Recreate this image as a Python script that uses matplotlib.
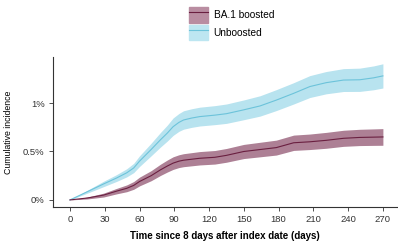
import matplotlib.pyplot as plt
import numpy as np
from matplotlib.patches import Patch
from matplotlib.lines import Line2D

plt.rcParams['font.family'] = ['Liberation Sans', 'DejaVu Sans']

# days since 8 days after index date
days = [0, 15, 29, 40, 49, 55, 60, 70, 78, 84, 89, 94, 98, 105, 112, 125, 135, 150, 164, 178, 193, 207, 221, 236, 250, 262, 270]

# cumulative incidence (%)
unboosted = [0, 0.085, 0.165, 0.225, 0.28, 0.33, 0.40, 0.52, 0.62, 0.69, 0.756, 0.80, 0.825, 0.845, 0.86, 0.875, 0.89, 0.93, 0.97, 1.03, 1.10, 1.17, 1.21, 1.237, 1.24, 1.26, 1.28]
unboosted_hw = [0, 0.015, 0.028, 0.035, 0.042, 0.048, 0.055, 0.065, 0.075, 0.082, 0.09, 0.092, 0.095, 0.096, 0.097, 0.098, 0.1, 0.102, 0.105, 0.108, 0.11, 0.113, 0.115, 0.118, 0.12, 0.123, 0.125]

boosted = [0, 0.02, 0.05, 0.09, 0.12, 0.15, 0.19, 0.25, 0.31, 0.35, 0.38, 0.40, 0.41, 0.42, 0.43, 0.44, 0.46, 0.50, 0.52, 0.54, 0.59, 0.60, 0.615, 0.636, 0.645, 0.648, 0.65]
boosted_hw = [0, 0.01, 0.02, 0.028, 0.035, 0.04, 0.045, 0.052, 0.058, 0.062, 0.065, 0.066, 0.067, 0.068, 0.069, 0.07, 0.071, 0.073, 0.075, 0.077, 0.079, 0.08, 0.082, 0.083, 0.084, 0.085, 0.086]

blue_line = '#6cc3da'
blue_band = '#b8e3ef'
red_line = '#6a1f40'
red_band = '#ad8095'

fig = plt.figure(figsize=(3.98, 2.44), dpi=100)
ax = fig.add_axes([0.133, 0.152, 0.864, 0.614])

d = np.array(days)
u = np.array(unboosted); uh = np.array(unboosted_hw)
b = np.array(boosted); bh = np.array(boosted_hw)

ax.fill_between(d, u - uh, u + uh, color=blue_band, lw=0)
ax.plot(d, u, color=blue_line, lw=0.8)
ax.fill_between(d, b - bh, b + bh, color=red_band, lw=0)
ax.plot(d, b, color=red_line, lw=0.8)

ax.set_xlim(-14.7, 282)
ax.set_ylim(-0.072, 1.474)
ax.set_xticks(range(0, 271, 30))
ax.set_yticks([0, 0.5, 1])
ax.set_yticklabels(['0%', '0.5%', '1%'])
ax.tick_params(labelsize=6.8, length=3, width=0.6, colors='#333333', labelcolor='#333333', pad=3)
for s in ['top', 'right']:
    ax.spines[s].set_visible(False)
for s in ['left', 'bottom']:
    ax.spines[s].set_linewidth(0.8)
    ax.spines[s].set_color('#333333')

ax.set_xlabel('Time since 8 days after index date (days)', fontsize=7, fontweight='bold', labelpad=5)
ax.set_ylabel('Cumulative incidence', fontsize=6.3, labelpad=7)

handles = [(Patch(color='#b98da1'), Line2D([], [], color=red_line, lw=0.8)),
           (Patch(color='#bde6f1'), Line2D([], [], color=blue_line, lw=0.8))]
fig.legend(handles, ['BA.1 boosted', 'Unboosted'], loc='upper left', bbox_to_anchor=(0.455, 1.005),
           frameon=False, fontsize=7.3, handlelength=1.9, handleheight=2.0, labelspacing=0.2,
           handletextpad=0.5, borderpad=0.3)

fig.savefig('out.png', dpi=100)
